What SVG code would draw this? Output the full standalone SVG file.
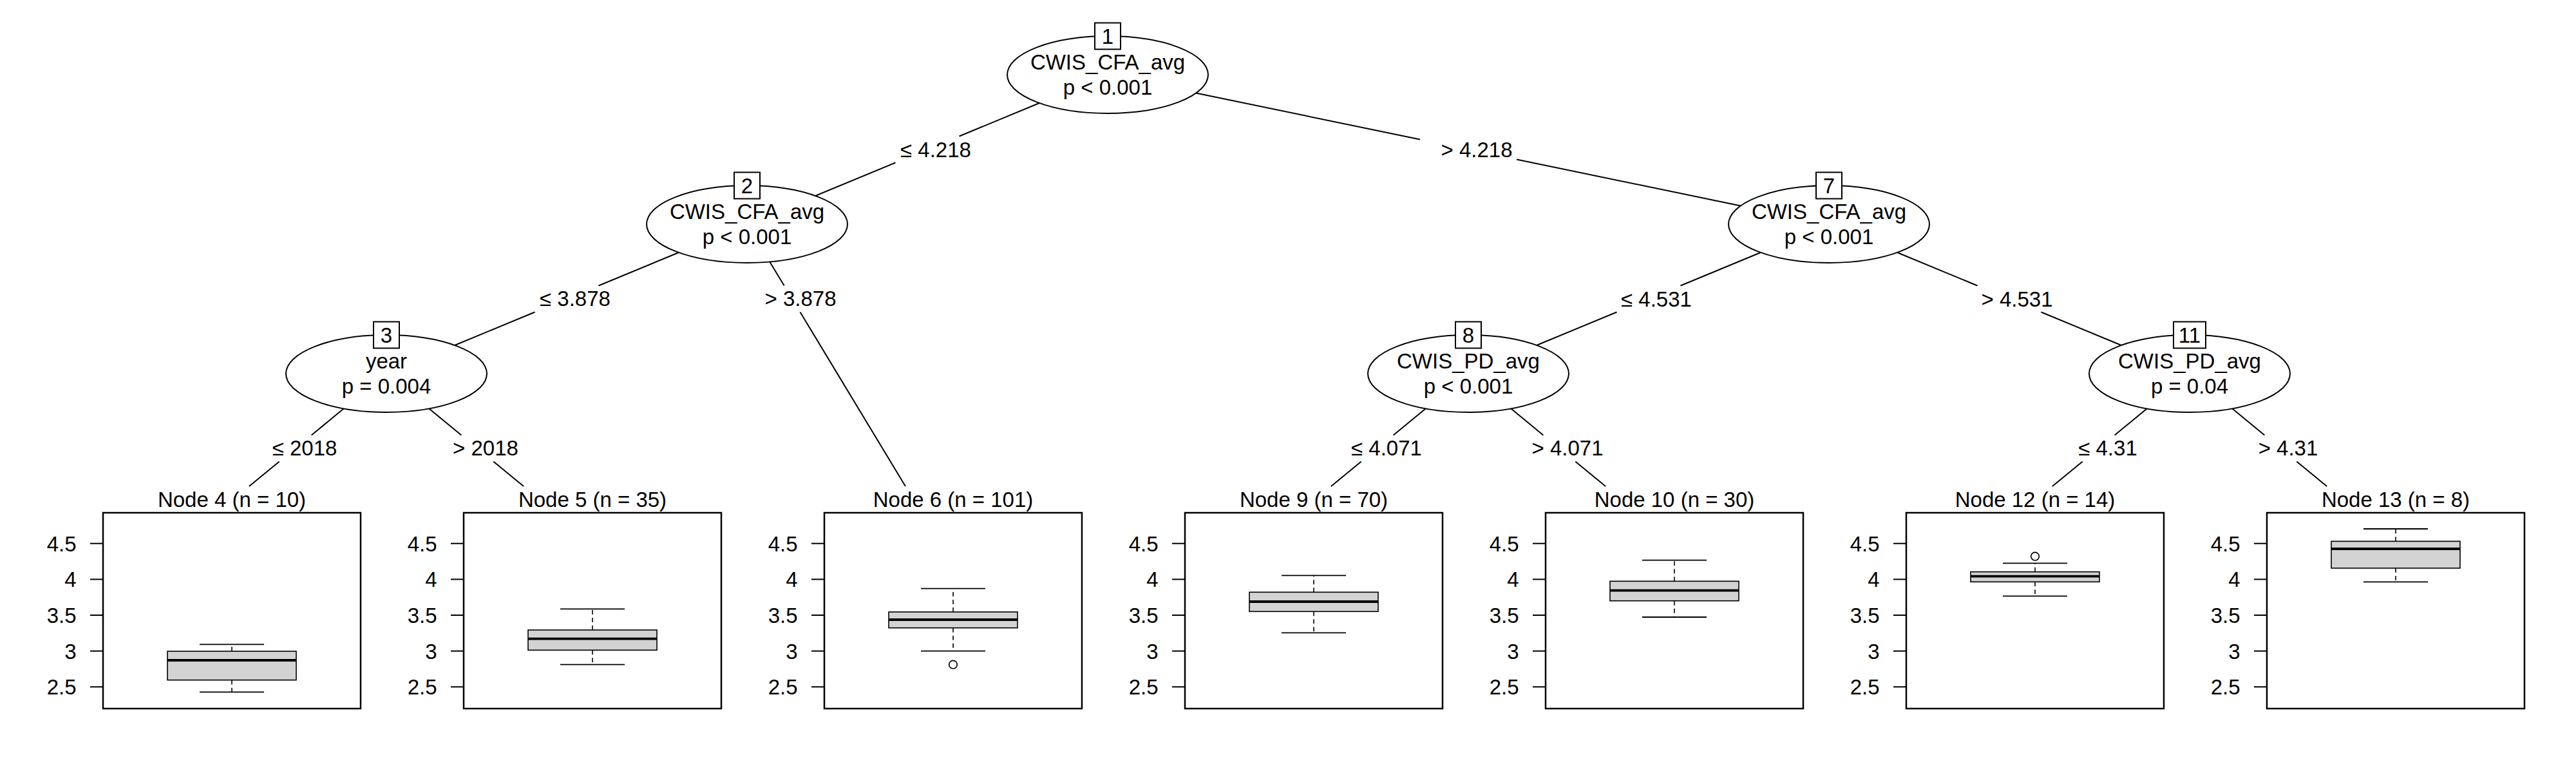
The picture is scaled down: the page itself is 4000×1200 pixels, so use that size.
<svg xmlns="http://www.w3.org/2000/svg" width="4000" height="1200" viewBox="0 0 4000 1200">
<style>
text{font-family:"Liberation Sans",Arial,Helvetica,sans-serif;font-size:33px;fill:#000}
.m{text-anchor:middle}
.e{text-anchor:end}
.ell{fill:#fff;stroke:#000;stroke-width:2}
.idb{fill:#fff;stroke:#000;stroke-width:2}
.edge{stroke:#000;stroke-width:2;fill:none}
.frame{fill:none;stroke:#000;stroke-width:2.5}
.tick{stroke:#000;stroke-width:2}
.wh{stroke:#000;stroke-width:1.6;stroke-dasharray:7 5}
.cap{stroke:#000;stroke-width:1.8}
.bx{fill:#d3d3d3;stroke:#000;stroke-width:1.6}
.med{stroke:#000;stroke-width:3.8}
.out{fill:none;stroke:#000;stroke-width:1.7}
</style>
<rect width="4000" height="1200" fill="#fff"/>

<g id="connectors">
<line class="edge" x1="1613.9" y1="160" x2="1489.5" y2="211.5"/>
<line class="edge" x1="1390.5" y1="252.5" x2="1266.1" y2="304"/>
<text class="m" x="1453" y="243.5">≤ 4.218</text>
<line class="edge" x1="1857.3" y1="144.5" x2="2205" y2="216.5"/>
<line class="edge" x1="2355" y1="247.5" x2="2702.7" y2="319.5"/>
<text class="m" x="2293" y="243.5">&gt; 4.218</text>
<line class="edge" x1="1053.9" y1="392" x2="929.5" y2="443.5"/>
<line class="edge" x1="830.5" y1="484.5" x2="706.1" y2="536"/>
<text class="m" x="893" y="475">≤ 3.878</text>
<line class="edge" x1="1195.3" y1="406.4" x2="1217.7" y2="443.5"/>
<line class="edge" x1="1242.5" y1="484.5" x2="1406" y2="755"/>
<text class="m" x="1243" y="475">&gt; 3.878</text>
<line class="edge" x1="2733.9" y1="392" x2="2609.5" y2="443.5"/>
<line class="edge" x1="2510.5" y1="484.5" x2="2386.1" y2="536"/>
<text class="m" x="2572" y="475.5">≤ 4.531</text>
<line class="edge" x1="2946.1" y1="392" x2="3070.5" y2="443.5"/>
<line class="edge" x1="3169.5" y1="484.5" x2="3293.9" y2="536"/>
<text class="m" x="3132" y="475.5">&gt; 4.531</text>
<line class="edge" x1="533.8" y1="634.3" x2="483.7" y2="675.5"/>
<line class="edge" x1="433.7" y1="716.5" x2="386.8" y2="755"/>
<text class="m" x="473" y="707">≤ 2018</text>
<line class="edge" x1="666.2" y1="634.3" x2="716.3" y2="675.5"/>
<line class="edge" x1="766.3" y1="716.5" x2="813.2" y2="755"/>
<text class="m" x="754" y="707">&gt; 2018</text>
<line class="edge" x1="2213.8" y1="634.3" x2="2163.7" y2="675.5"/>
<line class="edge" x1="2113.7" y1="716.5" x2="2066.8" y2="755"/>
<text class="m" x="2153" y="707">≤ 4.071</text>
<line class="edge" x1="2346.2" y1="634.3" x2="2396.3" y2="675.5"/>
<line class="edge" x1="2446.3" y1="716.5" x2="2493.2" y2="755"/>
<text class="m" x="2434" y="707">&gt; 4.071</text>
<line class="edge" x1="3333.8" y1="634.3" x2="3283.7" y2="675.5"/>
<line class="edge" x1="3233.7" y1="716.5" x2="3186.8" y2="755"/>
<text class="m" x="3273" y="707">≤ 4.31</text>
<line class="edge" x1="3466.2" y1="634.3" x2="3516.3" y2="675.5"/>
<line class="edge" x1="3566.3" y1="716.5" x2="3613.2" y2="755"/>
<text class="m" x="3553" y="707">&gt; 4.31</text>
</g>

<g id="node1">
<ellipse class="ell" cx="1720" cy="116" rx="156" ry="60"/>
<rect class="idb" x="1700" y="35.5" width="40" height="41"/>
<text class="m" x="1720" y="68">1</text>
<text class="m" x="1720" y="107.5">CWIS_CFA_avg</text>
<text class="m" x="1720" y="147">p &lt; 0.001</text>
</g>
<g id="node2">
<ellipse class="ell" cx="1160" cy="348" rx="156" ry="60"/>
<rect class="idb" x="1140" y="267.5" width="40" height="41"/>
<text class="m" x="1160" y="300">2</text>
<text class="m" x="1160" y="339.5">CWIS_CFA_avg</text>
<text class="m" x="1160" y="379">p &lt; 0.001</text>
</g>
<g id="node3">
<ellipse class="ell" cx="600" cy="580" rx="156" ry="60"/>
<rect class="idb" x="580" y="499.5" width="40" height="41"/>
<text class="m" x="600" y="532">3</text>
<text class="m" x="600" y="571.5">year</text>
<text class="m" x="600" y="611">p = 0.004</text>
</g>
<g id="node7">
<ellipse class="ell" cx="2840" cy="348" rx="156" ry="60"/>
<rect class="idb" x="2820" y="267.5" width="40" height="41"/>
<text class="m" x="2840" y="300">7</text>
<text class="m" x="2840" y="339.5">CWIS_CFA_avg</text>
<text class="m" x="2840" y="379">p &lt; 0.001</text>
</g>
<g id="node8">
<ellipse class="ell" cx="2280" cy="580" rx="156" ry="60"/>
<rect class="idb" x="2260" y="499.5" width="40" height="41"/>
<text class="m" x="2280" y="532">8</text>
<text class="m" x="2280" y="571.5">CWIS_PD_avg</text>
<text class="m" x="2280" y="611">p &lt; 0.001</text>
</g>
<g id="node11">
<ellipse class="ell" cx="3400" cy="580" rx="156" ry="60"/>
<rect class="idb" x="3375" y="499.5" width="50" height="41"/>
<text class="m" x="3400" y="532">11</text>
<text class="m" x="3400" y="571.5">CWIS_PD_avg</text>
<text class="m" x="3400" y="611">p = 0.04</text>
</g>

<defs>
<g id="axis">
<line class="tick" x1="-20" y1="843.7" x2="0" y2="843.7"/>
<line class="tick" x1="-20" y1="899.35" x2="0" y2="899.35"/>
<line class="tick" x1="-20" y1="955" x2="0" y2="955"/>
<line class="tick" x1="-20" y1="1010.65" x2="0" y2="1010.65"/>
<line class="tick" x1="-20" y1="1066.3" x2="0" y2="1066.3"/>
<rect class="frame" x="0" y="796" width="400" height="304"/>
</g>
</defs>

<g id="node4">
<text class="m" x="360" y="786.7">Node 4 (n = 10)</text>
<use href="#axis" x="160"/>
<text class="e" x="118.5" y="855.5">4.5</text><text class="e" x="118.5" y="911.2">4</text><text class="e" x="118.5" y="966.8">3.5</text><text class="e" x="118.5" y="1022.5">3</text><text class="e" x="118.5" y="1078.1">2.5</text>
<line class="wh" x1="360" y1="1011" x2="360" y2="1000.3"/>
<line class="wh" x1="360" y1="1055.7" x2="360" y2="1074.3"/>
<line class="cap" x1="310" y1="1000.3" x2="410" y2="1000.3"/>
<line class="cap" x1="310" y1="1074.3" x2="410" y2="1074.3"/>
<rect class="bx" x="260" y="1011" width="200" height="44.7"/>
<line class="med" x1="260" y1="1025" x2="460" y2="1025"/>
</g>

<g id="node5">
<text class="m" x="920" y="786.7">Node 5 (n = 35)</text>
<use href="#axis" x="720"/>
<text class="e" x="678.5" y="855.5">4.5</text><text class="e" x="678.5" y="911.2">4</text><text class="e" x="678.5" y="966.8">3.5</text><text class="e" x="678.5" y="1022.5">3</text><text class="e" x="678.5" y="1078.1">2.5</text>
<line class="wh" x1="920" y1="978" x2="920" y2="945.3"/>
<line class="wh" x1="920" y1="1009.3" x2="920" y2="1031.7"/>
<line class="cap" x1="870" y1="945.3" x2="970" y2="945.3"/>
<line class="cap" x1="870" y1="1031.7" x2="970" y2="1031.7"/>
<rect class="bx" x="820" y="978" width="200" height="31.3"/>
<line class="med" x1="820" y1="991.7" x2="1020" y2="991.7"/>
</g>

<g id="node6">
<text class="m" x="1480" y="786.7">Node 6 (n = 101)</text>
<use href="#axis" x="1280"/>
<text class="e" x="1238.5" y="855.5">4.5</text><text class="e" x="1238.5" y="911.2">4</text><text class="e" x="1238.5" y="966.8">3.5</text><text class="e" x="1238.5" y="1022.5">3</text><text class="e" x="1238.5" y="1078.1">2.5</text>
<line class="wh" x1="1480" y1="950" x2="1480" y2="913.7"/>
<line class="wh" x1="1480" y1="974.7" x2="1480" y2="1010.7"/>
<line class="cap" x1="1430" y1="913.7" x2="1530" y2="913.7"/>
<line class="cap" x1="1430" y1="1010.7" x2="1530" y2="1010.7"/>
<rect class="bx" x="1380" y="950" width="200" height="24.7"/>
<line class="med" x1="1380" y1="962" x2="1580" y2="962"/>
<circle class="out" cx="1480" cy="1031.7" r="6.3"/>
</g>

<g id="node9">
<text class="m" x="2040" y="786.7">Node 9 (n = 70)</text>
<use href="#axis" x="1840"/>
<text class="e" x="1798.5" y="855.5">4.5</text><text class="e" x="1798.5" y="911.2">4</text><text class="e" x="1798.5" y="966.8">3.5</text><text class="e" x="1798.5" y="1022.5">3</text><text class="e" x="1798.5" y="1078.1">2.5</text>
<line class="wh" x1="2040" y1="919.3" x2="2040" y2="893.3"/>
<line class="wh" x1="2040" y1="949.3" x2="2040" y2="982.3"/>
<line class="cap" x1="1990" y1="893.3" x2="2090" y2="893.3"/>
<line class="cap" x1="1990" y1="982.3" x2="2090" y2="982.3"/>
<rect class="bx" x="1940" y="919.3" width="200" height="30"/>
<line class="med" x1="1940" y1="934" x2="2140" y2="934"/>
</g>

<g id="node10">
<text class="m" x="2600" y="786.7">Node 10 (n = 30)</text>
<use href="#axis" x="2400"/>
<text class="e" x="2358.5" y="855.5">4.5</text><text class="e" x="2358.5" y="911.2">4</text><text class="e" x="2358.5" y="966.8">3.5</text><text class="e" x="2358.5" y="1022.5">3</text><text class="e" x="2358.5" y="1078.1">2.5</text>
<line class="wh" x1="2600" y1="902.3" x2="2600" y2="869.7"/>
<line class="wh" x1="2600" y1="932.7" x2="2600" y2="958"/>
<line class="cap" x1="2550" y1="869.7" x2="2650" y2="869.7"/>
<line class="cap" x1="2550" y1="958" x2="2650" y2="958"/>
<rect class="bx" x="2500" y="902.3" width="200" height="30.4"/>
<line class="med" x1="2500" y1="916.7" x2="2700" y2="916.7"/>
</g>

<g id="node12">
<text class="m" x="3160" y="786.7">Node 12 (n = 14)</text>
<use href="#axis" x="2960"/>
<text class="e" x="2918.5" y="855.5">4.5</text><text class="e" x="2918.5" y="911.2">4</text><text class="e" x="2918.5" y="966.8">3.5</text><text class="e" x="2918.5" y="1022.5">3</text><text class="e" x="2918.5" y="1078.1">2.5</text>
<line class="wh" x1="3160" y1="887.7" x2="3160" y2="874.3"/>
<line class="wh" x1="3160" y1="903.3" x2="3160" y2="925.3"/>
<line class="cap" x1="3110" y1="874.3" x2="3210" y2="874.3"/>
<line class="cap" x1="3110" y1="925.3" x2="3210" y2="925.3"/>
<rect class="bx" x="3060" y="887.7" width="200" height="15.6"/>
<line class="med" x1="3060" y1="894.7" x2="3260" y2="894.7"/>
<circle class="out" cx="3160" cy="863.7" r="6.3"/>
</g>

<g id="node13">
<text class="m" x="3720" y="786.7">Node 13 (n = 8)</text>
<use href="#axis" x="3520"/>
<text class="e" x="3478.5" y="855.5">4.5</text><text class="e" x="3478.5" y="911.2">4</text><text class="e" x="3478.5" y="966.8">3.5</text><text class="e" x="3478.5" y="1022.5">3</text><text class="e" x="3478.5" y="1078.1">2.5</text>
<line class="wh" x1="3720" y1="840.3" x2="3720" y2="821"/>
<line class="wh" x1="3720" y1="882" x2="3720" y2="903.3"/>
<line class="cap" x1="3670" y1="821" x2="3770" y2="821"/>
<line class="cap" x1="3670" y1="903.3" x2="3770" y2="903.3"/>
<rect class="bx" x="3620" y="840.3" width="200" height="41.7"/>
<line class="med" x1="3620" y1="852" x2="3820" y2="852"/>
</g>
</svg>
